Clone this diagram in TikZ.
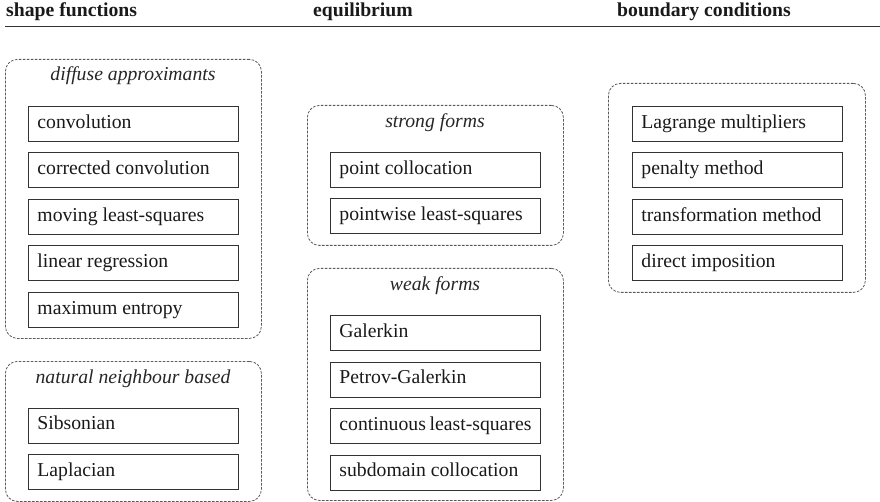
\documentclass[tikz,border=0pt]{standalone}
\usepackage{fontspec}
\setmainfont{Liberation Serif}
\begin{document}
\begin{tikzpicture}[x=1pt,y=-1pt,
  font=\fontsize{19.7}{23}\selectfont,
  hdr/.style={font=\fontsize{19.7}{23}\selectfont\bfseries, anchor=base west, inner sep=0pt, text=black!90},
  grp/.style={draw=black!65, line width=0.8pt, dash pattern=on 2.6pt off 1.4pt, rounded corners=12pt, anchor=north west, inner sep=0pt},
  grptitle/.style={font=\fontsize{19.7}{23}\selectfont\itshape, anchor=base, inner sep=0pt, text=black!85},
  item/.style={draw=black!80, line width=0.9pt, anchor=north west, minimum height=35pt, minimum width=210pt, inner xsep=9pt, inner ysep=0pt, text height=14pt, text depth=5pt, text=black!90,
    execute at begin node={\hbox to 192pt\bgroup}, execute at end node={\hfil\egroup}}
]
\useasboundingbox (0,0) rectangle (880,502);

% headers
\node[hdr] (h1) at (6,16.5) {shape functions};
\node[hdr] (h2) at (313,16.5) {equilibrium};
\node[hdr] (h3) at (617,16.5) {boundary conditions};
\coordinate (ruleL) at (5,26.5);
\coordinate (ruleR) at (880,26.5);
\draw[line width=1.5pt, black!80] (ruleL) -- (ruleR);

% column 1
\node[grp, minimum width=256pt, minimum height=279pt] (g1) at (5,59) {};
\node[grptitle] (t1) at (133,81) {diffuse approximants};
\node[item] (a1) at (28,106) {convolution};
\node[item] (a2) at (28,152.5) {corrected convolution};
\node[item] (a3) at (28,199) {moving least-squares};
\node[item] (a4) at (28,245.5) {linear regression};
\node[item] (a5) at (28,292) {maximum entropy};

\node[grp, minimum width=256pt, minimum height=140pt] (g2) at (5,361) {};
\node[grptitle] (t2) at (133,383) {natural neighbour based};
\node[item] (b1) at (28,407.5) {Sibsonian};
\node[item] (b2) at (28,454) {Laplacian};

% column 2
\node[grp, minimum width=256pt, minimum height=140pt] (g3) at (307,105) {};
\node[grptitle] (t3) at (435,128) {strong forms};
\node[item] (c1) at (330,152) {point collocation};
\node[item] (c2) at (330,198.5) {pointwise least-squares};

\node[grp, minimum width=256pt, minimum height=232pt] (g4) at (307,268) {};
\node[grptitle] (t4) at (435,291) {weak forms};
\node[item] (d1) at (330,315) {Galerkin};
\node[item] (d2) at (330,361.5) {Petrov-Galerkin};
\node[item] (d3) at (330,408) {continuous least-squares};
\node[item] (d4) at (330,454.5) {subdomain collocation};

% column 3
\node[grp, minimum width=257pt, minimum height=209pt] (g5) at (608,83) {};
\node[item] (e1) at (632,106) {Lagrange multipliers};
\node[item] (e2) at (632,152.5) {penalty method};
\node[item] (e3) at (632,199) {transformation method};
\node[item] (e4) at (632,245.5) {direct imposition};
\end{tikzpicture}
\end{document}
